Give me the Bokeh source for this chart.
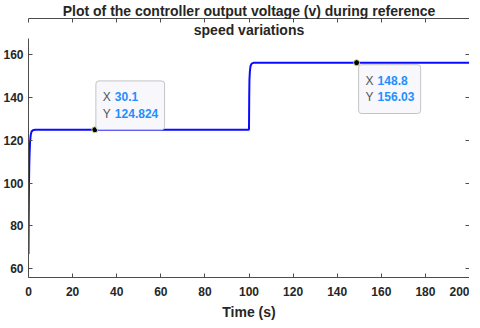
from bokeh.plotting import figure
from bokeh.models import Range1d, LinearAxis, Label, FixedTicker, CustomJSTickFormatter, Title
from bokeh.embed import file_html
from bokeh.resources import INLINE

# ---- data ----
time_s = [0, 0.1, 0.2, 0.35, 0.5, 0.7, 1.0, 1.4, 2.0, 3.0, 30.1, 99.8,
          100.0, 100.1, 100.2, 100.4, 100.7, 101.2, 102.0, 103.0, 148.8, 200]
voltage = [67, 85, 98, 108, 114, 119, 122.3, 124.0, 124.6, 124.8, 124.824, 124.82,
           125.0, 140, 148, 152, 154.5, 155.6, 155.95, 156.02, 156.03, 156.03]

tip_x = [30.1, 148.8]
tip_y = [124.824, 156.03]
tip_x_text = ["30.1", "148.8"]
tip_y_text = ["124.824", "156.03"]

x_ticks = [0, 20, 40, 60, 80, 100, 120, 140, 160, 180, 200]
y_ticks = [60, 80, 100, 120, 140, 160]

title_line1 = "Plot of the controller output voltage (v) during reference"
title_line2 = "speed variations"
x_label = "Time (s)"

FONT = "Liberation Sans"
AXIS_COLOR = "#4d4d4d"
TEXT_COLOR = "#262626"
TIP_BG = "#f7f7fc"

p = figure(width=469, height=322, x_range=Range1d(0, 200), y_range=Range1d(56, 167.3),
           output_backend="svg", toolbar_location=None,
           min_border_left=25, min_border_right=0, min_border_top=30, min_border_bottom=40)
p.background_fill_color = "white"
p.border_fill_color = "white"
p.outline_line_color = None
p.grid.visible = False

def style_title(t, standoff):
    t.align = "center"
    t.text_font = FONT
    t.text_font_size = "14px"
    t.text_font_style = "bold"
    t.text_color = TEXT_COLOR
    t.standoff = standoff

p.title.text = title_line1
style_title(p.title, 0)
t2 = Title(text=title_line2)
style_title(t2, 2)
p.add_layout(t2, "above")

def style_axis(ax, show_labels):
    ax.axis_line_color = AXIS_COLOR
    ax.major_tick_line_color = AXIS_COLOR
    ax.major_tick_in = 4
    ax.major_tick_out = 0
    ax.minor_tick_line_color = None
    ax.major_label_text_font = FONT
    ax.major_label_text_font_size = "12px"
    ax.major_label_text_font_style = "bold"
    ax.major_label_text_color = TEXT_COLOR
    if not show_labels:
        ax.formatter = CustomJSTickFormatter(code="return ''")
        ax.major_label_standoff = 0

p.xaxis.ticker = FixedTicker(ticks=x_ticks)
p.yaxis.ticker = FixedTicker(ticks=y_ticks)
style_axis(p.xaxis[0], True)
style_axis(p.yaxis[0], True)
p.xaxis.major_label_standoff = 9
p.yaxis.major_label_standoff = 5
p.xaxis.axis_label = x_label
p.xaxis.axis_label_text_font = FONT
p.xaxis.axis_label_text_font_size = "14px"
p.xaxis.axis_label_text_font_style = "bold"
p.xaxis.axis_label_text_color = TEXT_COLOR
p.xaxis.axis_label_standoff = 5

top_ax = LinearAxis(ticker=FixedTicker(ticks=x_ticks))
right_ax = LinearAxis(ticker=FixedTicker(ticks=y_ticks))
style_axis(top_ax, False)
style_axis(right_ax, False)
p.add_layout(top_ax, "above")
p.add_layout(right_ax, "right")

p.line(time_s, voltage, line_color="#0a0aff", line_width=2)
p.scatter(tip_x, tip_y, size=6, fill_color="black", line_color="#d8d890", line_width=1)

TIP_PAD = dict(x=7, y=9)
placements = [("bottom", 1, 0), ("top", 2, -2)]
for xv, yv, xs, ys, (base, xo, yo) in zip(tip_x, tip_y, tip_x_text, tip_y_text, placements):
    box = Label(x=xv, y=yv, x_offset=xo, y_offset=yo, text="X " + xs + "\nY " + ys,
                text_font=FONT, text_font_size="12px", text_font_style="bold", text_color=TIP_BG,
                text_align="left", text_baseline=base, padding=TIP_PAD,
                background_fill_color=TIP_BG, border_line_color="#c4c4c4",
                border_radius=3)
    keys = Label(x=xv, y=yv, x_offset=xo, y_offset=yo, text="X\nY",
                 text_font=FONT, text_font_size="12px", text_color="#555555",
                 text_align="left", text_baseline=base, padding=TIP_PAD)
    vals = Label(x=xv, y=yv, x_offset=xo + 12, y_offset=yo, text=xs + "\n" + ys,
                 text_font=FONT, text_font_size="12px", text_font_style="bold",
                 text_color="#1f8fff", text_align="left", text_baseline=base, padding=TIP_PAD)
    p.add_layout(box)
    p.add_layout(keys)
    p.add_layout(vals)

open("out.html", "w").write(file_html(p, INLINE))
